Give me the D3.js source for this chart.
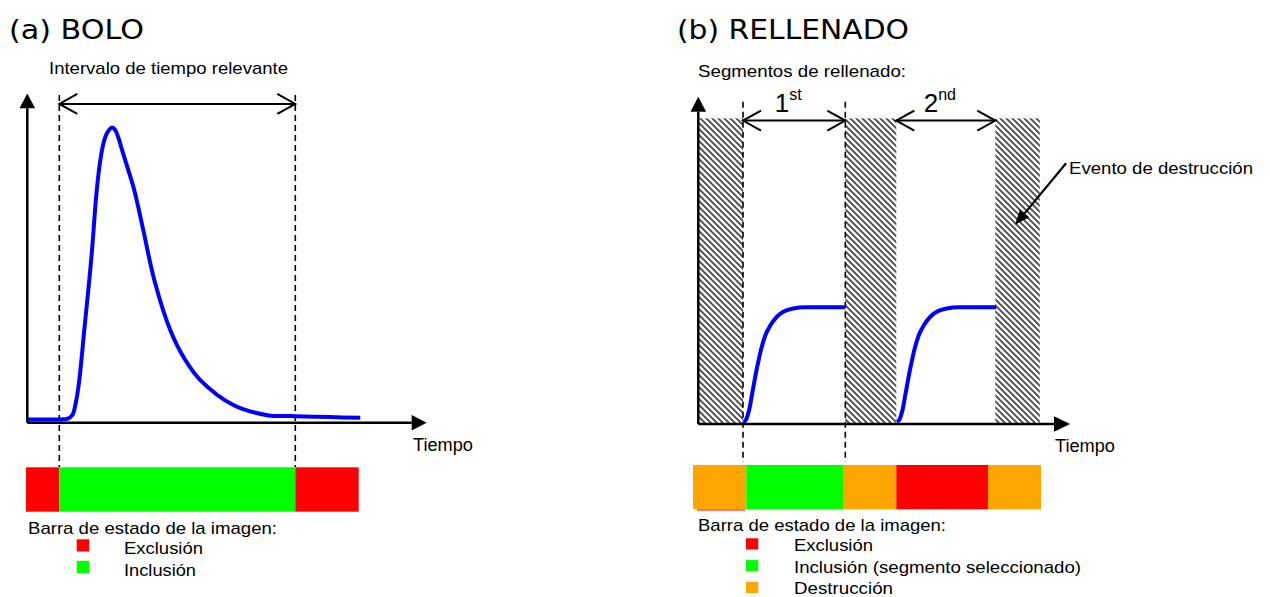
<!DOCTYPE html>
<html><head><meta charset="utf-8">
<script src="https://cdn.jsdelivr.net/npm/d3@7"></script>
<style>html,body{margin:0;padding:0;background:#fff;overflow:hidden}</style>
</head><body><svg id="c" width="1270" height="597"></svg>
<script>
// ---------- DATA ----------
// (a) BOLO : bolus curve (time units, signal units)
const bolusTime   = [0, 3.3, 4.0, 4.5, 4.9, 5.2, 5.7, 6.2, 6.5, 6.9, 7.3, 7.6, 7.95, 8.5, 8.8, 9.1, 9.44, 10.0, 10.7, 11.6, 12.7, 14.3, 15.8, 17.3, 20.6, 24.0, 26.8, 30.3, 33.3];
const bolusSignal = [0.1, 0.1, 0.12, 0.23, 0.69, 1.30, 2.83, 4.35, 5.36, 6.94, 8.0, 8.5, 8.82, 9.0, 8.92, 8.7, 8.35, 7.8, 7.09, 5.87, 4.35, 2.82, 1.91, 1.30, 0.54, 0.23, 0.20, 0.17, 0.15];
const bolusInterval = [3.2, 26.8];
const bolusBarBounds = [-0.13, 3.2, 26.8, 33.14];
const bolusBarStates = ["excl", "incl", "excl"];

// (b) RELLENADO : filling segments
const fillTime1   = [4.53, 4.8, 5.1, 5.4, 5.7, 6.0, 6.3, 6.7, 7.2, 7.8, 8.5, 9.5, 10.7, 14.7];
const fillSignal1 = [0.06, 0.15, 0.45, 0.95, 1.45, 1.9, 2.3, 2.7, 3.0, 3.25, 3.42, 3.52, 3.56, 3.56];
const fillTime2   = [19.87, 20.14, 20.44, 20.74, 21.04, 21.34, 21.64, 22.04, 22.54, 23.14, 23.84, 24.84, 26.04, 29.8];
const fillSignal2 = [0.06, 0.15, 0.45, 0.95, 1.45, 1.9, 2.3, 2.7, 3.0, 3.25, 3.42, 3.52, 3.56, 3.56];
const destructionStart = [0, 14.7, 29.7];
const destructionEnd   = [4.47, 19.8, 34.15];
const destructionTop = 9.32;
const segmentStart = [4.47, 19.8];
const segmentEnd   = [14.7, 29.7];
const segmentLabels = [["1", "st"], ["2", "nd"]];
const fillDashed = [4.47, 14.7];
const fillBarBounds = [-0.53, 4.8, 14.47, 19.8, 28.97, 34.27];
const fillBarStates = ["destr", "incl", "destr", "excl", "destr"];

const stateColors = {excl: "#ff0000", incl: "#00ff00", destr: "#ffa500"};
const legendLeft  = [["excl", "Exclusión"], ["incl", "Inclusión"]];
const legendRight = [["excl", "Exclusión"], ["incl", "Inclusión (segmento seleccionado)"], ["destr", "Destrucción"]];

// ---------- DRAW ----------
const svg = d3.select("#c");
svg.append("rect").attr("width", 1270).attr("height", 597).attr("fill", "#fff");
const SANS = "'Liberation Sans', Arial, sans-serif";
const TITLE = "'DejaVu Sans', Verdana, sans-serif";

const defs = svg.append("defs");
const pat = defs.append("pattern").attr("id", "hatch").attr("patternUnits", "userSpaceOnUse")
  .attr("width", 6).attr("height", 6);
pat.append("rect").attr("width", 6).attr("height", 6).attr("fill", "#fff");
pat.append("path").attr("d", "M-1.5,-1.5L7.5,7.5M-1.5,4.5L1.5,7.5M4.5,-1.5L7.5,1.5")
  .attr("stroke", "#474747").attr("stroke-width", 1.8);

function text(x, y, s, size, w, font, anchor) {
  const t = svg.append("text").attr("x", x).attr("y", y).text(s)
    .attr("font-family", font || SANS).attr("font-size", size).attr("fill", "#000");
  if (w) t.attr("textLength", w).attr("lengthAdjust", "spacingAndGlyphs");
  if (anchor) t.attr("text-anchor", anchor);
  return t;
}

function axes(x, y, xBase, xTip, yBase, yTip, half) {
  const x0 = x(0), y0 = y(0);
  svg.append("path").attr("d", `M${x0},${y0}L${x(xBase)},${y0}`).attr("stroke", "#000").attr("stroke-width", 2.5).attr("fill", "none");
  svg.append("path").attr("d", `M${x0},${y0}L${x0},${y(yBase)}`).attr("stroke", "#000").attr("stroke-width", 2.5).attr("fill", "none");
  svg.append("path").attr("d", `M${x(xTip)},${y0}L${x(xBase)},${y0 - half}L${x(xBase)},${y0 + half}Z`).attr("fill", "#000");
  svg.append("path").attr("d", `M${x0},${y(yTip)}L${x0 - half},${y(yBase)}L${x0 + half},${y(yBase)}Z`).attr("fill", "#000");
}

function dblArrow(xa, xb, yy) {
  const g = svg.append("g").attr("stroke", "#000").attr("stroke-width", 2).attr("fill", "none");
  g.append("path").attr("d", `M${xa},${yy}L${xb},${yy}`);
  g.append("path").attr("d", `M${xa + 18},${yy - 10}L${xa},${yy}L${xa + 18},${yy + 10}`);
  g.append("path").attr("d", `M${xb - 18},${yy - 10}L${xb},${yy}L${xb - 18},${yy + 10}`);
}

function dashed(xx, ya, yb) {
  svg.append("path").attr("d", `M${xx},${ya}L${xx},${yb}`).attr("stroke", "#000")
    .attr("stroke-width", 1.6).attr("stroke-dasharray", "6,4");
}

function bar(x, bounds, states, yTop, h) {
  svg.append("g").selectAll("rect").data(states).join("rect")
    .attr("x", (d, i) => x(bounds[i])).attr("width", (d, i) => x(bounds[i + 1]) - x(bounds[i]))
    .attr("y", yTop).attr("height", h).attr("fill", d => stateColors[d]);
}

function legend(items, sqX, sqY0, step, sqW, sqH, lx, ly0, widths) {
  items.forEach((it, i) => {
    svg.append("rect").attr("x", sqX).attr("y", sqY0 + i * step).attr("width", sqW).attr("height", sqH)
      .attr("fill", stateColors[it[0]]);
    text(lx, ly0 + i * step, it[1], 17, widths[i]);
  });
}

// ===== Panel (a) BOLO =====
const xL = d3.scaleLinear().domain([0, 40]).range([27.3, 427.3]);
const yL = d3.scaleLinear().domain([0, 10]).range([422.7, 94.7]);

text(9, 39.3, "(a) BOLO", 26.5, 135, TITLE);
text(49, 74, "Intervalo de tiempo relevante", 17, 239);

bolusInterval.forEach(t => dashed(xL(t), 95, 467));
dblArrow(xL(bolusInterval[0]), xL(bolusInterval[1]), yL(9.72));

svg.append("path").datum(d3.zip(bolusTime, bolusSignal))
  .attr("d", d3.line().x(d => xL(d[0])).y(d => yL(d[1])).curve(d3.curveCatmullRom.alpha(0.5)))
  .attr("fill", "none").attr("stroke", "#0000ff").attr("stroke-width", 4);

axes(xL, yL, 38.44, 39.94, 9.59, 10.04, 7.8);
text(413, 451, "Tiempo", 17.5, 60);

bar(xL, bolusBarBounds, bolusBarStates, 467.3, 44.4);
text(28, 534, "Barra de estado de la imagen:", 17, 249);
legend(legendLeft, 76.7, 539.3, 21.5, 12.6, 12.2, 124, 554, [79, 72]);

// ===== Panel (b) RELLENADO =====
const xR = d3.scaleLinear().domain([0, 40]).range([698.3, 1098.3]);
const yR = d3.scaleLinear().domain([0, 10]).range([424, 96]);

text(677, 38.5, "(b) RELLENADO", 26.5, 232, TITLE);
text(698, 77, "Segmentos de rellenado:", 17, 208);

svg.append("g").selectAll("rect").data(destructionStart).join("rect")
  .attr("x", (d) => xR(d)).attr("width", (d, i) => xR(destructionEnd[i]) - xR(d))
  .attr("y", yR(destructionTop)).attr("height", yR(0) - yR(destructionTop))
  .attr("fill", "url(#hatch)");

fillDashed.forEach(t => dashed(xR(t), 101.7, 462));
segmentStart.forEach((s, i) => {
  dblArrow(xR(s), xR(segmentEnd[i]), yR(9.25));
  const cx = (xR(s) + xR(segmentEnd[i])) / 2;
  const t = svg.append("text").attr("x", cx - 6).attr("y", 112.3).attr("text-anchor", "middle")
    .attr("font-family", SANS).attr("fill", "#000");
  t.append("tspan").attr("font-size", 26).text(segmentLabels[i][0]);
  t.append("tspan").attr("font-size", 16).attr("dy", -12.8).text(segmentLabels[i][1]);
});

const fillLine = d3.line().x(d => xR(d[0])).y(d => yR(d[1])).curve(d3.curveMonotoneX);
[[fillTime1, fillSignal1], [fillTime2, fillSignal2]].forEach(([ts, vs]) => {
  svg.append("path").datum(d3.zip(ts, vs)).attr("d", fillLine)
    .attr("fill", "none").attr("stroke", "#0000ff").attr("stroke-width", 4);
});

axes(xR, yR, 35.57, 37.17, 9.52, 9.98, 7.8);
text(1055, 452, "Tiempo", 17.5, 60);

// destruction event annotation
text(1069, 174.3, "Evento de destrucción", 17, 184);
(function () {
  const x1 = xR(36.78), y1 = yR(7.95), x2 = xR(31.67), y2 = yR(6.07);
  const ang = Math.atan2(y2 - y1, x2 - x1), L = 15, W = 6;
  const bx = x2 - L * Math.cos(ang), by = y2 - L * Math.sin(ang);
  svg.append("path").attr("d", `M${x1},${y1}L${bx},${by}`).attr("stroke", "#000").attr("stroke-width", 2.2);
  const px = -Math.sin(ang) * W, py = Math.cos(ang) * W;
  svg.append("path").attr("d", `M${x2},${y2}L${bx + px},${by + py}L${bx - px},${by - py}Z`).attr("fill", "#000");
})();

bar(xR, fillBarBounds, fillBarStates, 465, 44.3);
svg.append("path").attr("d", `M${xR(-0.13)},510L${xR(4.67)},510`).attr("stroke", "#ff0000").attr("stroke-width", 1.2);
text(698, 530.7, "Barra de estado de la imagen:", 17, 248);
legend(legendRight, 746, 538.3, 21.8, 12.3, 11.2, 794, 550.7, [79, 287, 99]);
</script></body></html>
